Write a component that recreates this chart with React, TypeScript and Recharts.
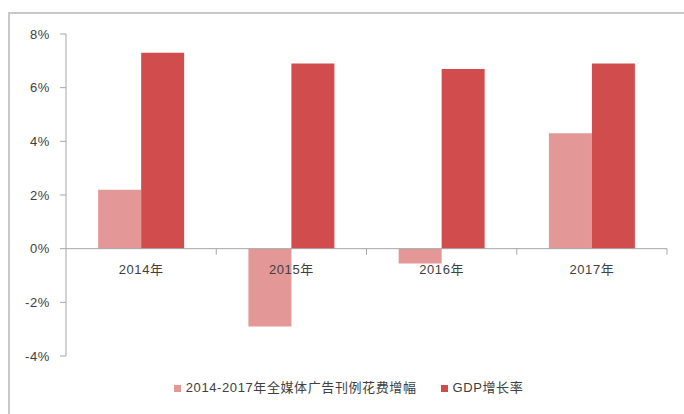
import React from "react";
import { BarChart, Bar, XAxis, YAxis, ReferenceLine } from "recharts";

const years = ["2014年", "2015年", "2016年", "2017年"];
const adSpendGrowth = [2.2, -2.9, -0.55, 4.3];
const gdpGrowth = [7.3, 6.9, 6.7, 6.9];
const yTicks = [-4, -2, 0, 2, 4, 6, 8];

const seriesNames = ["2014-2017年全媒体广告刊例花费增幅", "GDP增长率"];
const seriesColors = ["#e49797", "#d14c4d"];

const data = years.map((year, i) => ({
  year,
  ad: adSpendGrowth[i],
  gdp: gdpGrowth[i],
}));

const W = 684;
const H = 414;
const TOP = 34;
const BOTTOM = 58;
const LEFT = 66;
const RIGHT = 17;
const plotH = H - TOP - BOTTOM;
const zeroY = TOP + (plotH * 8) / 12;
const band = (W - LEFT - RIGHT) / years.length;

const font = "'Liberation Sans', 'Noto Sans CJK SC', sans-serif";
const textColor = "#404040";
const axisColor = "#a6a6a6";

function YearTick(props: any) {
  const { x, payload } = props;
  return (
    <g>
      <line x1={x + band / 2} x2={x + band / 2} y1={zeroY} y2={zeroY + 6} stroke={axisColor} />
      <text
        x={x}
        y={zeroY + 25}
        textAnchor="middle"
        fill={textColor}
        fontSize={13}
        fontFamily={font}
        letterSpacing={0.6}
      >
        {payload.value}
      </text>
    </g>
  );
}

export default function App() {
  return (
    <div style={{ position: "fixed", left: 0, top: 0, width: W, height: H, background: "#fff", overflow: "hidden" }}>
      <div
        style={{
          position: "absolute",
          left: 8,
          top: 12,
          width: 720,
          height: 430,
          borderTop: "2px solid #c8c8c8",
          borderLeft: "2px solid #c8c8c8",
        }}
      />
      <div style={{ position: "absolute", left: 0, top: 0 }}>
        <BarChart
          width={W}
          height={H}
          data={data}
          margin={{ top: TOP, right: RIGHT, bottom: BOTTOM - 30, left: 0 }}
          barCategoryGap="21.4%"
          barGap={0}
        >
          <XAxis
            dataKey="year"
            height={30}
            axisLine={false}
            tickLine={false}
            tick={<YearTick />}
            interval={0}
          />
          <YAxis
            width={LEFT}
            domain={[-4, 8]}
            ticks={yTicks}
            interval={0}
            tickFormatter={(v: number) => `${v}%`}
            axisLine={{ stroke: axisColor }}
            tickLine={{ stroke: axisColor }}
            tickSize={6}
            tickMargin={10}
            tick={{ fill: textColor, fontSize: 13, fontFamily: font, letterSpacing: 0.6 } as any}
          />
          <ReferenceLine y={0} stroke={axisColor} />
          <Bar dataKey="ad" name={seriesNames[0]} fill={seriesColors[0]} isAnimationActive={false} />
          <Bar dataKey="gdp" name={seriesNames[1]} fill={seriesColors[1]} isAnimationActive={false} />
        </BarChart>
      </div>
      <div
        style={{
          position: "absolute",
          left: 0,
          top: 379,
          width: 697,
          display: "flex",
          justifyContent: "center",
          gap: 24,
          fontFamily: font,
          fontSize: 13,
          letterSpacing: 0.6,
          color: textColor,
          lineHeight: "18px",
        }}
      >
        {seriesNames.map((name, i) => (
          <div key={name} style={{ display: "flex", alignItems: "center" }}>
            <span style={{ width: 7, height: 7, background: seriesColors[i], marginRight: 5 }} />
            <span>{name}</span>
          </div>
        ))}
      </div>
    </div>
  );
}
